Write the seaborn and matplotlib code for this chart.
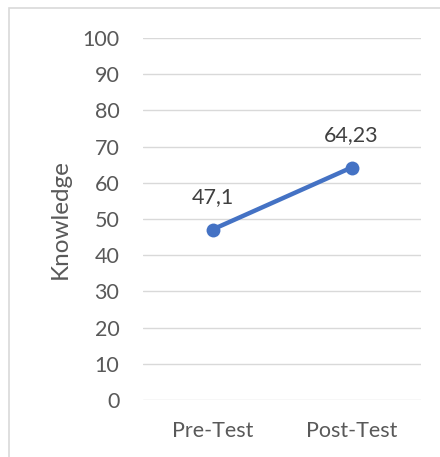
import pandas as pd
import matplotlib.pyplot as plt
import matplotlib.patches as mpatches
import seaborn as sns

sns.set_style("white")
plt.rcParams['font.family'] = ['Lato', 'DejaVu Sans']

tests = ["Pre-Test", "Post-Test"]
knowledge = [47.1, 64.23]
value_labels = ["47,1", "64,23"]

df = pd.DataFrame({"test": tests, "knowledge": knowledge})

fig = plt.figure(figsize=(4.4, 4.57), dpi=100)
ax = fig.add_axes([0.325, 0.1247, 0.632, 0.7921])

sns.lineplot(data=df, x="test", y="knowledge", ax=ax, color="#4472C4",
             linewidth=3.2, marker="o", markersize=10, markeredgewidth=0,
             sort=False)

ax.set_ylim(0, 100)
ax.set_xlim(-0.5, 1.5)
ax.set_yticks(range(0, 101, 10))
ax.yaxis.grid(True, color="#D9D9D9", linewidth=1)
ax.set_axisbelow(True)
for s in ax.spines.values():
    s.set_visible(False)
ax.tick_params(axis="both", length=0, labelsize=15.5, colors="#595959")
ax.tick_params(axis="y", pad=17)
ax.tick_params(axis="x", pad=15)
ax.set_xlabel("")
ax.set_ylabel("Knowledge", fontsize=17.5, color="#595959", labelpad=8)

for i, (v, lab) in enumerate(zip(knowledge, value_labels)):
    ax.annotate(lab, (i, v), xytext=(0, 23), textcoords="offset points",
                ha="center", va="center", fontsize=15.5, color="#404040")

fig.patches.append(mpatches.Rectangle((9 / 440, -0.01), 1.0, 1 - 8 / 457 + 0.01,
                                      transform=fig.transFigure, fill=False,
                                      edgecolor="#D9D9D9", linewidth=1.2))

fig.savefig("out.png", dpi=100)
